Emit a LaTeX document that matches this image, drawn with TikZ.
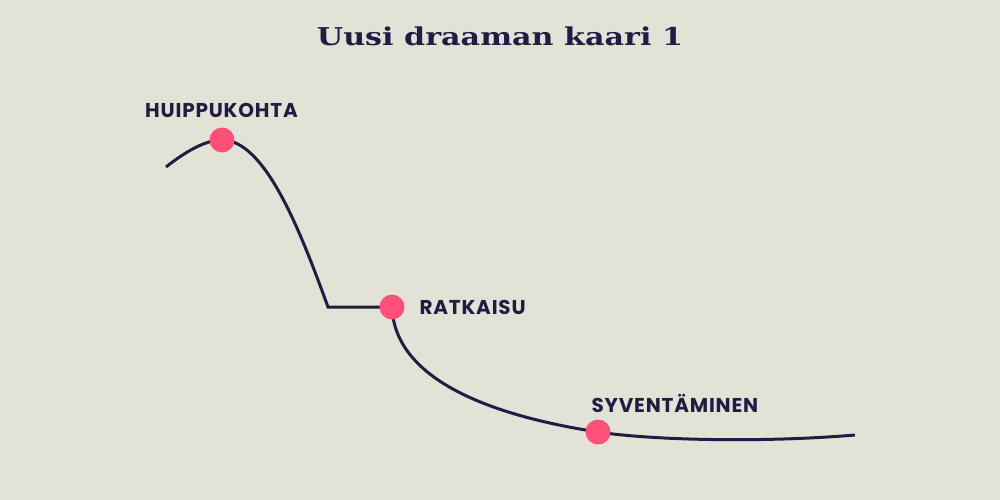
\documentclass[tikz,border=0pt]{standalone}
\usepackage{fontspec}
\setmainfont{DejaVu Serif}
\newfontfamily\labelfont[LetterSpace=4]{Poppins}

\definecolor{bgbeige}{RGB}{227,226,215}
\definecolor{arcnavy}{RGB}{35,28,66}
\definecolor{dotpink}{RGB}{255,80,122}

\tikzset{every picture/.style={line width=0.75pt}}
\tikzset{
  arcline/.style={draw=arcnavy, line width=2.25pt},
  arcdot/.style={circle, fill=dotpink, inner sep=0pt, minimum size=18.75pt},
  stagelabel/.style={font=\labelfont\bfseries\fontsize{15}{18}\selectfont, text=arcnavy, inner sep=0pt},
}

\begin{document}
\begin{tikzpicture}[x=0.75pt,y=0.75pt,yscale=-1,xscale=1]
	%Background
	\fill [bgbeige] (0,0) rectangle (1000,500);
	\useasboundingbox (0,0) rectangle (1000,500);

	% Points on the arc
	\coordinate (start) at (166,167);
	\coordinate (peak) at (222,140);
	\coordinate (corner) at (328,307);
	\coordinate (solution) at (392,307);
	\coordinate (deepening) at (598,432);
	\coordinate (finish) at (855,435);

	%Curve Lines
	\draw [arcline] (start) .. controls (185,152) and (205,140) .. (peak)
		.. controls (265,140) and (300,230) .. (corner) -- (solution)
		.. controls (395,390) and (520,420) .. (deepening)
		.. controls (650,440) and (760,443) .. (finish) ;

	% Dots
	\node [arcdot] (huippu) at (peak) {};
	\node [arcdot] (ratkaisu) at (solution) {};
	\node [arcdot] (syventa) at (deepening) {};

	% Text Node
	\node [text=arcnavy, anchor=base, inner sep=0pt] (title) at (500,45.5) {\resizebox{274.5pt}{14pt}{\bfseries Uusi draaman kaari 1}};
	% Text Node
	\node [stagelabel, anchor=base] (huippulabel) at (221.5,117.3) {HUIPPUKOHTA};
	% Text Node
	\node [stagelabel, anchor=base west] (ratkaisulabel) at (419,314.3) {RATKAISU};
	% Text Node
	\node [stagelabel, anchor=base west] (syventalabel) at (591,412.3) {SYVENTÄMINEN};

\end{tikzpicture}
\end{document}
